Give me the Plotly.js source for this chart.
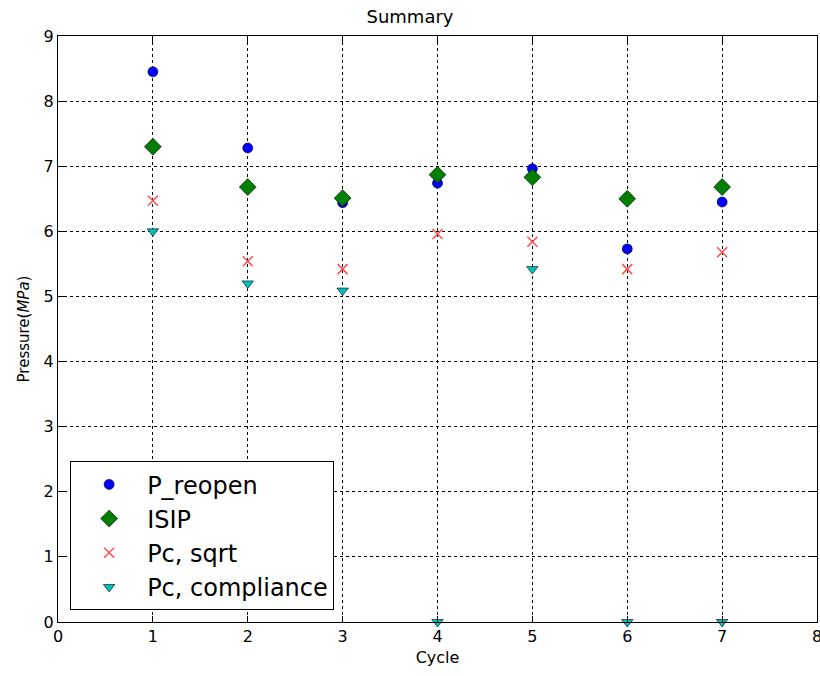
<!DOCTYPE html>
<html>
<head>
<meta charset="utf-8">
<script src="https://cdn.plot.ly/plotly-3.0.1.min.js"></script>
<style>
  html, body { margin: 0; padding: 0; background: #fff; }
  #chart { width: 820px; height: 676px; }
</style>
</head>
<body>
<div id="chart"></div>
<script>
// Pressure summary per injection cycle
const cycles = [1, 2, 3, 4, 5, 6, 7];
const pReopen = [8.45, 7.28, 6.44, 6.74, 6.96, 5.73, 6.45];
const isip = [7.30, 6.68, 6.51, 6.87, 6.83, 6.50, 6.68];
const pcSqrt = [6.47, 5.54, 5.42, 5.96, 5.84, 5.42, 5.68];
const pcCompliance = [6.00, 5.20, 5.09, 0, 5.42, 0, 0];

const xTicks = [0, 1, 2, 3, 4, 5, 6, 7, 8];
const yTicks = [0, 1, 2, 3, 4, 5, 6, 7, 8, 9];

const font = 'DejaVu Sans, Liberation Sans, sans-serif';

const traces = [
  {
    x: cycles, y: pReopen, name: 'P_reopen', mode: 'markers', type: 'scatter', legendgroup: 'a',
    marker: { symbol: 'circle', size: 10, color: '#0000ff', line: { color: '#000', width: 0.6 } }
  },
  {
    x: cycles, y: isip, name: 'ISIP', mode: 'markers', type: 'scatter', legendgroup: 'b',
    marker: { symbol: 'diamond', size: 13, color: '#007f00', line: { color: '#000', width: 0.6 } }
  },
  {
    x: cycles, y: pcSqrt, name: 'Pc, sqrt', mode: 'markers', type: 'scatter', legendgroup: 'c',
    marker: { symbol: 'x-thin', size: 10, color: '#ff4d4d', line: { color: '#ff4d4d', width: 1.5 } }
  },
  {
    x: cycles, y: pcCompliance, name: 'Pc, compliance', mode: 'markers', type: 'scatter', legendgroup: 'd',
    marker: { symbol: 'triangle-down', size: 10, color: '#00bfbf', line: { color: '#000', width: 0.6 } },
    cliponaxis: false
  }
];

const axisCommon = {
  showline: true, linecolor: '#000', linewidth: 1, mirror: 'ticks',
  ticks: 'inside', ticklen: 6, tickcolor: '#000', tickwidth: 1,
  showgrid: true, gridcolor: '#000', gridwidth: 1, griddash: 'dot',
  zeroline: false,
  tickfont: { family: font, size: 16, color: '#000' }
};

const layout = {
  width: 820, height: 676,
  margin: { l: 58, r: 3, t: 36, b: 54 },
  paper_bgcolor: '#fff', plot_bgcolor: '#fff',
  font: { family: font, color: '#000' },
  title: { text: 'Summary', font: { family: font, size: 18, color: '#000' }, x: 0.5, xanchor: 'center', y: 0.985, yanchor: 'top' },
  xaxis: Object.assign({}, axisCommon, {
    range: [0, 8], tickmode: 'array', tickvals: xTicks, ticktext: xTicks.map(String),
    title: { text: 'Cycle', font: { family: font, size: 16, color: '#000' }, standoff: 6 }
  }),
  yaxis: Object.assign({}, axisCommon, {
    range: [0, 9], tickmode: 'array', tickvals: yTicks, ticktext: yTicks.map(String),
    title: { text: 'Pressure(<i>MPa</i>)', font: { family: font, size: 15, color: '#000' }, standoff: 10 }
  }),
  // the last x tick label sits on the canvas edge, so it is placed as a text label
  annotations: [{
    x: xTicks[xTicks.length - 1], y: 0, xref: 'x', yref: 'y',
    text: String(xTicks[xTicks.length - 1]), showarrow: false,
    xanchor: 'center', yanchor: 'top', yshift: -3,
    font: { family: font, size: 16, color: '#000' }
  }],
  showlegend: true,
  legend: {
    x: 0.016, y: 0.02, xanchor: 'left', yanchor: 'bottom',
    bgcolor: '#fff', bordercolor: '#000', borderwidth: 1,
    font: { family: font, size: 24, color: '#000' },
    tracegroupgap: 4, itemwidth: 66, traceorder: 'normal'
  }
};

Plotly.newPlot('chart', traces, layout, { displayModeBar: false, staticPlot: true });
</script>
</body>
</html>
